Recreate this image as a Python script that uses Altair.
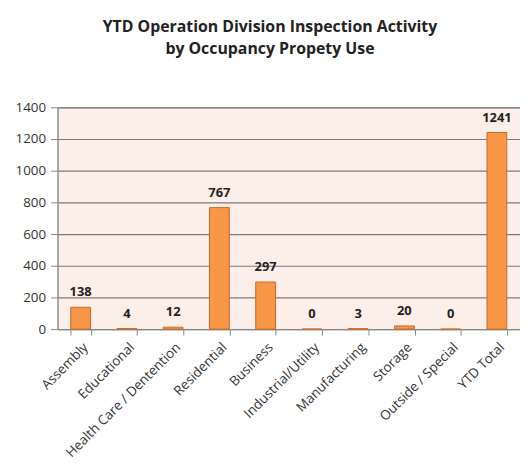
import altair as alt
import pandas as pd

categories = ["Assembly", "Educational", "Health Care / Dentention", "Residential",
              "Business", "Industrial/Utility", "Manufacturing", "Storage",
              "Outside / Special", "YTD Total"]
values = [138, 4, 12, 767, 297, 0, 3, 20, 0, 1241]

df = pd.DataFrame({"cat": categories, "val": values})
FONT = "Open Sans"

x = alt.X("cat:N", sort=categories, title=None,
          scale=alt.Scale(paddingInner=0.56, paddingOuter=0.28),
          axis=alt.Axis(labelAngle=-45, labelFontSize=13.5, labelFont=FONT,
                        labelColor="#333333", domainColor="#888888",
                        tickColor="#888888", tickBand="extent", labelPadding=5,
                        tickSize=6, labelAlign="right", labelBaseline="top"))
y = alt.Y("val:Q", title=None,
          scale=alt.Scale(domain=[0, 1400]),
          axis=alt.Axis(values=[0, 200, 400, 600, 800, 1000, 1200, 1400],
                        format="d",
                        labelFontSize=13.5, labelFont=FONT, labelColor="#333333",
                        gridColor="#7a7a7a", gridWidth=1.2, domainColor="#888888",
                        tickColor="#888888", tickSize=7, labelPadding=5))

base = alt.Chart(df).encode(x=x, y=y)
bars = base.mark_bar(color="#F79646", stroke="#C86A28", strokeWidth=1, size=20)
labels = base.mark_text(dy=-15, fontWeight="bold", fontSize=13, font=FONT,
                        color="#222222").encode(text="val:Q")

chart = (bars + labels).properties(
    width=467, height=224,
    background="white",
    padding={"left": 50, "top": 98, "right": 0, "bottom": 140},
    autosize=alt.AutoSizeParams(type="none"),
    title=alt.TitleParams(
        text=["YTD Operation Division Inspection Activity", "by Occupancy Propety Use"],
        fontSize=16, font=FONT, fontWeight="bold", color="#222222",
        anchor="middle", dx=-19, offset=44, lineHeight=22),
).configure_view(fill="#FCEEE9", stroke="#999999")

chart.save("out.html", embed_options={"renderer": "svg", "actions": False})
